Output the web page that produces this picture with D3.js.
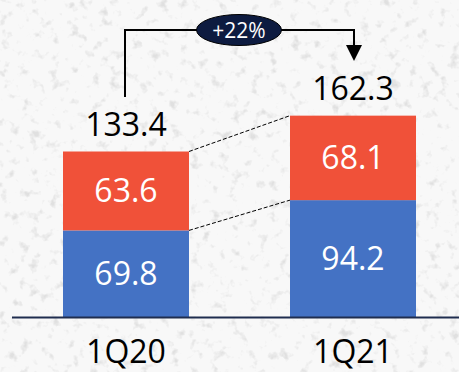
<!DOCTYPE html>
<html><head><meta charset="utf-8">
<script src="https://cdn.jsdelivr.net/npm/d3@7"></script>
<style>html,body{margin:0;padding:0;background:#f6f6f6;}svg{display:block;}</style>
</head><body>
<script>
const categories = ["1Q20", "1Q21"];
const blueValues = [69.8, 94.2];
const redValues = [63.6, 68.1];
const totals = [133.4, 162.3];
const growthLabel = "+22%";

const W = 459, H = 372;
const svg = d3.select("body").append("svg").attr("width", W).attr("height", H);
const defs = svg.append("defs");
const f = defs.append("filter").attr("id","noise").attr("x",0).attr("y",0).attr("width","100%").attr("height","100%");
f.append("feTurbulence").attr("type","fractalNoise").attr("baseFrequency","0.1").attr("numOctaves",3).attr("seed",7).attr("result","n");
f.append("feColorMatrix").attr("type","matrix")
  .attr("values","0 0 0 0 0.4  0 0 0 0 0.4  0 0 0 0 0.4  4 0 0 0 -2.3");

svg.append("rect").attr("width",W).attr("height",H).attr("fill","#f8f8f8");
svg.append("rect").attr("width",W).attr("height",H).attr("filter","url(#noise)").attr("opacity",0.3);

const x = d3.scaleBand().domain(categories).range([63, 416]).paddingInner(101/227).paddingOuter(0);
const y = d3.scaleLinear().domain([0, 100]).range([317, 317 - 124.06]);
const font = "'Open Sans', sans-serif";
const fs = 32;

const data = categories.map((c,i)=>({c, b: blueValues[i], r: redValues[i], t: totals[i]}));

// dashed connectors
const conn = svg.append("g").attr("stroke","#000").attr("stroke-width",1).attr("stroke-dasharray","4,2");
conn.append("line").attr("x1", x(categories[0]) + x.bandwidth()).attr("y1", y(data[0].b + data[0].r))
  .attr("x2", x(categories[1])).attr("y2", y(data[1].b + data[1].r));
conn.append("line").attr("x1", x(categories[0]) + x.bandwidth()).attr("y1", y(data[0].b))
  .attr("x2", x(categories[1])).attr("y2", y(data[1].b));

// bars
svg.selectAll(".blue").data(data).join("rect")
  .attr("x", d=>x(d.c)).attr("width", x.bandwidth())
  .attr("y", d=>y(d.b)).attr("height", d=>y(0)-y(d.b)).attr("fill","#4472C4");
svg.selectAll(".red").data(data).join("rect")
  .attr("x", d=>x(d.c)).attr("width", x.bandwidth())
  .attr("y", d=>y(d.b+d.r)).attr("height", d=>y(d.b)-y(d.b+d.r)).attr("fill","#F05139");

// value labels
const lab = (sel)=>sel.attr("font-family",font).attr("font-size",fs).attr("text-anchor","middle");
data.forEach(d=>{
  const cx = x(d.c) + x.bandwidth()/2;
  lab(svg.append("text")).attr("x",cx).attr("y",(y(0)+y(d.b))/2 + fs*0.357).attr("fill","#fff").text(d.b.toFixed(1));
  lab(svg.append("text")).attr("x",cx).attr("y",(y(d.b)+y(d.b+d.r))/2 + fs*0.357).attr("fill","#fff").text(d.r.toFixed(1));
  lab(svg.append("text")).attr("x",cx).attr("y",y(d.t) - 16).attr("fill","#000").text(d.t.toFixed(1));
  lab(svg.append("text")).attr("x",cx).attr("y",363).attr("fill","#000").text(d.c);
});

// baseline
svg.append("line").attr("x1",12).attr("x2",W).attr("y1",y(0)+0.5).attr("y2",y(0)+0.5)
  .attr("stroke","#1F2D4F").attr("stroke-width",2);

// bracket arrow
const c0 = x(categories[0]) + x.bandwidth()/2 - 1;
const c1 = x(categories[1]) + x.bandwidth()/2 + 1;
const by = 30;
svg.append("path").attr("d", `M${c0},97 V${by} H${c1} V47`).attr("fill","none").attr("stroke","#000").attr("stroke-width",2);
svg.append("path").attr("d", `M${c1-8},45 L${c1+8},45 L${c1},61 Z`).attr("fill","#000");

// badge
const bx = (c0 + c1)/2 - 0.5;
svg.append("ellipse").attr("cx",bx).attr("cy",by).attr("rx",42.5).attr("ry",15.5)
  .attr("fill","#0D1B40").attr("stroke","#000").attr("stroke-width",1);
svg.append("text").attr("x",bx).attr("y",by+7.5).attr("text-anchor","middle").attr("font-family",font)
  .attr("font-size",21).attr("fill","#fff").text(growthLabel);
</script>
</body></html>
